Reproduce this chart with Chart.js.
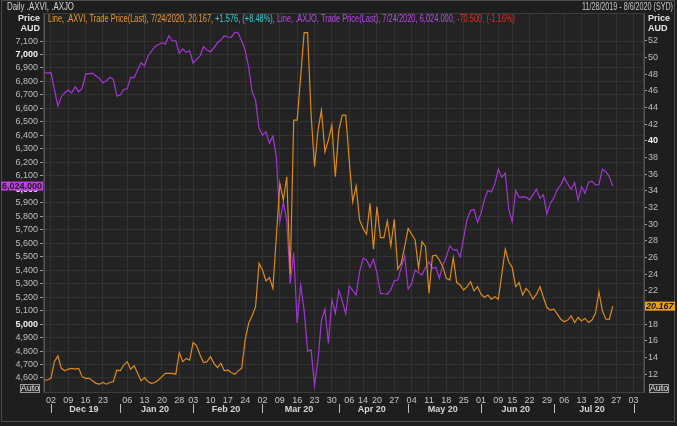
<!DOCTYPE html>
<html>
<head>
<meta charset="utf-8">
<script src="https://cdn.jsdelivr.net/npm/chart.js@4.4.1/dist/chart.umd.min.js"></script>
<style>
  html, body { margin: 0; padding: 0; background: #1e1e1e; }
  #wrap { width: 677px; height: 426px; }
</style>
</head>
<body>
<div id="wrap"><canvas id="chart" width="677" height="426"></canvas></div>
<script>
// ASX trading days shown on the axis (data ends 24 Jul, axis runs to 6 Aug)
const tradingDays = [
  '2019-11-28','2019-11-29',
  '2019-12-02','2019-12-03','2019-12-04','2019-12-05','2019-12-06','2019-12-09','2019-12-10','2019-12-11','2019-12-12','2019-12-13',
  '2019-12-16','2019-12-17','2019-12-18','2019-12-19','2019-12-20','2019-12-23','2019-12-24','2019-12-27','2019-12-30','2019-12-31',
  '2020-01-02','2020-01-03','2020-01-06','2020-01-07','2020-01-08','2020-01-09','2020-01-10','2020-01-13','2020-01-14','2020-01-15',
  '2020-01-16','2020-01-17','2020-01-20','2020-01-21','2020-01-22','2020-01-23','2020-01-24','2020-01-28','2020-01-29','2020-01-30','2020-01-31',
  '2020-02-03','2020-02-04','2020-02-05','2020-02-06','2020-02-07','2020-02-10','2020-02-11','2020-02-12','2020-02-13','2020-02-14',
  '2020-02-17','2020-02-18','2020-02-19','2020-02-20','2020-02-21','2020-02-24','2020-02-25','2020-02-26','2020-02-27','2020-02-28',
  '2020-03-02','2020-03-03','2020-03-04','2020-03-05','2020-03-06','2020-03-09','2020-03-10','2020-03-11','2020-03-12','2020-03-13',
  '2020-03-16','2020-03-17','2020-03-18','2020-03-19','2020-03-20','2020-03-23','2020-03-24','2020-03-25','2020-03-26','2020-03-27','2020-03-30','2020-03-31',
  '2020-04-01','2020-04-02','2020-04-03','2020-04-06','2020-04-07','2020-04-08','2020-04-09','2020-04-14','2020-04-15','2020-04-16',
  '2020-04-17','2020-04-20','2020-04-21','2020-04-22','2020-04-23','2020-04-24','2020-04-27','2020-04-28','2020-04-29','2020-04-30',
  '2020-05-01','2020-05-04','2020-05-05','2020-05-06','2020-05-07','2020-05-08','2020-05-11','2020-05-12','2020-05-13','2020-05-14','2020-05-15',
  '2020-05-18','2020-05-19','2020-05-20','2020-05-21','2020-05-22','2020-05-25','2020-05-26','2020-05-27','2020-05-28','2020-05-29',
  '2020-06-01','2020-06-02','2020-06-03','2020-06-04','2020-06-05','2020-06-09','2020-06-10','2020-06-11','2020-06-12','2020-06-15','2020-06-16',
  '2020-06-17','2020-06-18','2020-06-19','2020-06-22','2020-06-23','2020-06-24','2020-06-25','2020-06-26','2020-06-29','2020-06-30',
  '2020-07-01','2020-07-02','2020-07-03','2020-07-06','2020-07-07','2020-07-08','2020-07-09','2020-07-10','2020-07-13','2020-07-14','2020-07-15',
  '2020-07-16','2020-07-17','2020-07-20','2020-07-21','2020-07-22','2020-07-23','2020-07-24','2020-07-27','2020-07-28','2020-07-29','2020-07-30','2020-07-31',
  '2020-08-03','2020-08-04','2020-08-05','2020-08-06'
];

// S&P/ASX 200 VIX (.AXVI), right axis
const axviClose = [
  11.3, 11.3, 11.5, 13.5, 14.2, 12.7, 12.4, 12.6, 12.7, 12.6, 12.7, 11.7, 11.5, 11.5, 11.2, 10.9, 10.8, 11.0, 10.8, 11.0,
  11.1, 12.5, 12.4, 13.1, 13.5, 12.6, 13.0, 12.1, 11.2, 11.6, 11.1, 10.9, 11.0, 11.3, 11.7, 12.1, 12.1, 12.1, 12.0, 14.6,
  13.5, 13.9, 13.7, 15.8, 15.4, 14.3, 13.4, 13.5, 14.1, 13.3, 12.8, 13.3, 12.4, 12.5, 12.2, 12.0, 12.4, 12.7, 16.1, 18.1,
  19.0, 20.1, 25.3, 24.5, 23.2, 23.6, 22.3, 28.5, 34.9, 32.9, 35.7, 24.0, 42.5, 42.5, 47.7, 53.0, 53.0, 43.3, 36.9, 41.3,
  43.7, 38.7, 40.1, 41.9, 35.7, 41.3, 43.1, 43.1, 37.7, 32.7, 34.6, 30.5, 29.5, 28.8, 32.5, 27.0, 32.1, 28.4, 28.4, 30.4,
  27.4, 30.6, 24.6, 25.3, 27.3, 29.5, 28.8, 28.1, 24.7, 27.9, 27.3, 21.7, 26.2, 26.3, 25.7, 24.9, 23.5, 23.3, 26.0, 23.0,
  22.7, 22.1, 22.5, 23.1, 22.0, 22.5, 21.6, 21.2, 21.5, 21.0, 21.3, 21.0, 24.0, 27.0, 25.5, 24.8, 22.5, 23.0, 21.5, 22.3,
  21.8, 21.0, 21.6, 22.5, 21.2, 20.0, 19.7, 19.8, 19.2, 18.6, 18.3, 18.5, 19.0, 18.2, 18.8, 18.4, 18.7, 18.2, 18.5, 19.3,
  21.9, 19.6, 18.6, 18.591, 20.167
];

// S&P/ASX 200 (.AXJO), left axis
const axjoClose = [
  6872, 6860, 6868, 6740, 6618, 6687, 6716, 6736, 6716, 6761, 6724, 6749, 6855, 6858, 6860, 6840, 6823, 6791, 6805, 6831,
  6816, 6692, 6699, 6742, 6746, 6831, 6828, 6885, 6939, 6915, 6989, 7025, 7058, 7075, 7087, 7076, 7139, 7102, 7102, 7009,
  7041, 7016, 7028, 6935, 6964, 6989, 7058, 7033, 7021, 7050, 7087, 7107, 7139, 7130, 7127, 7165, 7160, 7100, 7033, 6909,
  6724, 6662, 6452, 6403, 6427, 6341, 6395, 6242, 5760, 5900, 5770, 5300, 5530, 5006, 5290, 5104, 4800, 4810, 4546, 4734,
  5030, 5110, 4857, 5179, 5080, 5250, 5170, 5075, 5283, 5250, 5216, 5390, 5488, 5475, 5421, 5481, 5380, 5228, 5225, 5223,
  5253, 5322, 5327, 5420, 5505, 5258, 5300, 5401, 5380, 5364, 5420, 5463, 5414, 5421, 5340, 5438, 5497, 5580, 5550, 5553,
  5497, 5640, 5780, 5842, 5850, 5755, 5820, 5925, 5990, 5980, 6040, 6149, 6090, 6120, 5850, 5760, 5990, 5940, 5943, 5942,
  5920, 5960, 6000, 5934, 5960, 5815, 5897, 5934, 6000, 6033, 6090, 6040, 6000, 6050, 5920, 6020, 5970, 6052, 6060, 6033,
  6034, 6150, 6130, 6094.5, 6024
];

const leftTicks = [4600, 4700, 4800, 4900, 5000, 5100, 5200, 5300, 5400, 5500, 5600, 5700, 5800, 5900, 6000,
                   6100, 6200, 6300, 6400, 6500, 6600, 6700, 6800, 6900, 7000, 7100];
const rightTicks = [12, 14, 16, 18, 20, 22, 24, 26, 28, 30, 32, 34, 36, 38, 40, 42, 44, 46, 48, 50, 52];

const weekTicks = [
  '2019-12-02','2019-12-09','2019-12-16','2019-12-23','2020-01-06','2020-01-13','2020-01-20','2020-01-28',
  '2020-02-03','2020-02-10','2020-02-17','2020-02-24','2020-03-02','2020-03-09','2020-03-16','2020-03-23','2020-03-30',
  '2020-04-06','2020-04-14','2020-04-20','2020-04-27','2020-05-04','2020-05-11','2020-05-18','2020-05-25',
  '2020-06-01','2020-06-09','2020-06-15','2020-06-22','2020-06-29','2020-07-06','2020-07-13','2020-07-20','2020-07-27','2020-08-03'
];
const monthKeys = ['2019-12', '2020-01', '2020-02', '2020-03', '2020-04', '2020-05', '2020-06', '2020-07'];
const monthLabels = ['Dec 19', 'Jan 20', 'Feb 20', 'Mar 20', 'Apr 20', 'May 20', 'Jun 20', 'Jul 20'];
const monthSeparators = ['2019-12', '2020-01', '2020-02', '2020-03', '2020-04', '2020-05', '2020-06', '2020-07', '2020-08'];

// --- helpers -------------------------------------------------------------
const FONT = "'Liberation Sans Narrow', 'Liberation Sans', Arial, sans-serif";
const firstIndexOf = key => tradingDays.findIndex(d => d.startsWith(key));
const lastIndexOf = key => { let k = -1; tradingDays.forEach((d, i) => { if (d.startsWith(key)) k = i; }); return k; };
const monthMids = monthKeys.map(k => (firstIndexOf(k) + lastIndexOf(k)) / 2);
const fmt = (v, d) => v.toLocaleString('en-US', { minimumFractionDigits: d, maximumFractionDigits: d });

function drawFitted(ctx, parts, x, y, width, font) {
  ctx.save();
  ctx.font = font;
  const full = parts.map(p => p[0]).join('');
  const w = ctx.measureText(full).width;
  ctx.translate(x, y);
  ctx.scale(width / w, 1);
  ctx.textBaseline = 'middle';
  ctx.textAlign = 'left';
  let cx = 0;
  parts.forEach(([t, c]) => {
    ctx.fillStyle = c;
    ctx.fillText(t, cx, 0);
    cx += ctx.measureText(t).width;
  });
  ctx.restore();
}

function tag(ctx, text, x, y, w, h, bg, fg, font, align) {
  ctx.fillStyle = bg;
  ctx.fillRect(x, y - h / 2, w, h);
  ctx.fillStyle = fg;
  ctx.font = font;
  ctx.textBaseline = 'middle';
  ctx.textAlign = align;
  ctx.fillText(text, align === 'right' ? x + w - 1 : x + 1, y + 0.5);
}

const decor = {
  id: 'decor',
  beforeDraw(chart) {
    const { ctx, chartArea: a } = chart;
    ctx.save();
    ctx.fillStyle = '#1e1e1e';
    ctx.fillRect(0, 0, chart.width, chart.height);
    ctx.fillStyle = '#232323';
    ctx.fillRect(a.left, a.top, a.right - a.left, a.bottom - a.top);
    ctx.restore();
  },
  afterDraw(chart) {
    const { ctx, chartArea: a, scales } = chart;
    ctx.save();
    // frames
    ctx.strokeStyle = '#4a4a4a';
    ctx.lineWidth = 1;
    ctx.strokeRect(1.5, 0.5, 673, 421);
    ctx.strokeStyle = '#3c3c3c';
    ctx.strokeRect(a.left - 0.5, a.top + 0.5, a.right - a.left, a.bottom - a.top);

    // title row
    drawFitted(ctx, [['Daily .AXVI, .AXJO', '#d4d4d4']], 7, 7.5, 67, '10px ' + FONT);
    drawFitted(ctx, [['11/28/2019 - 8/6/2020 (SYD)', '#c8c8c8']], 582, 7.5, 91, '10px ' + FONT);

    // axis unit captions
    ctx.font = 'bold 9px ' + FONT;
    ctx.fillStyle = '#e4e4e4';
    ctx.textBaseline = 'middle';
    ctx.textAlign = 'right';
    ctx.fillText('Price', 40, 18.5);
    ctx.fillText('AUD', 40, 29);
    ctx.textAlign = 'left';
    ctx.fillText('Price', 648, 18.5);
    ctx.fillText('AUD', 648, 29);

    // legend line
    const n = axviClose.length;
    const vLast = axviClose[n - 1], vPrev = axviClose[n - 2];
    const jLast = axjoClose[n - 1], jPrev = axjoClose[n - 2];
    const vChg = vLast - vPrev, jChg = jLast - jPrev;
    const sign = v => (v >= 0 ? '+' : '-');
    const date = '7/24/2020';
    drawFitted(ctx, [
      ['Line, .AXVI, Trade Price(Last), ' + date + ', ' + fmt(vLast, 3) + ', ', '#eb9a28'],
      [sign(vChg) + fmt(Math.abs(vChg), 3) + ', (' + sign(vChg) + fmt(Math.abs(vChg / vPrev * 100), 2) + '%), ', '#34cccc'],
      ['Line, .AXJO, Trade Price(Last), ' + date + ', ' + fmt(jLast, 3) + ', ', '#b84ae8'],
      [sign(jChg) + fmt(Math.abs(jChg), 3) + ', (' + sign(jChg) + fmt(Math.abs(jChg / jPrev * 100), 2) + '%)', '#e42c2c']
    ], 48, 19, 467, '10px ' + FONT);

    // month separators under the week row
    const xm = scales.xm;
    ctx.strokeStyle = '#bdbdbd';
    ctx.beginPath();
    monthSeparators.forEach(k => {
      const px = Math.round(xm.getPixelForValue(firstIndexOf(k))) + 0.5;
      ctx.moveTo(px, 404);
      ctx.lineTo(px, 413);
    });
    ctx.stroke();

    // last value tags
    const yL = scales.yL, yR = scales.yR;
    tag(ctx, fmt(jLast, 3), 1, yL.getPixelForValue(jLast), 42, 9, '#c03ee6', '#1a1a1a', 'bold 9px ' + FONT, 'right');
    tag(ctx, fmt(vLast, 3), 645, yR.getPixelForValue(vLast), 30, 9, '#f0a010', '#111', 'italic bold 9px ' + FONT, 'left');

    // Auto buttons
    ctx.strokeStyle = '#9a9a9a';
    ctx.fillStyle = '#2a2a2a';
    [[20, 384, 20], [649, 384, 20]].forEach(([x, y, w]) => {
      ctx.fillRect(x, y, w, 9);
      ctx.strokeRect(x + 0.5, y + 0.5, w - 1, 8);
    });
    ctx.fillStyle = '#e0e0e0';
    ctx.font = '9px ' + FONT;
    ctx.textAlign = 'center';
    ctx.fillText('Auto', 30, 389);
    ctx.fillText('Auto', 659, 389);
    ctx.restore();
  }
};

const tickFont = ctx => ({ family: FONT, size: 9, weight: ctx.tick && ctx.tick.bold ? 'bold' : 'normal' });

new Chart(document.getElementById('chart'), {
  type: 'line',
  data: {
    labels: tradingDays,
    datasets: [
      { label: '.AXVI', data: axviClose, yAxisID: 'yR', xAxisID: 'x', borderColor: '#dc8a1a', borderWidth: 1.2, pointRadius: 0, tension: 0 },
      { label: '.AXJO', data: axjoClose, yAxisID: 'yL', xAxisID: 'x', borderColor: '#a236d4', borderWidth: 1.2, pointRadius: 0, tension: 0 }
    ]
  },
  options: {
    responsive: false,
    animation: false,
    devicePixelRatio: 1,
    layout: { padding: { top: 13, left: 0, right: 0, bottom: 0 } },
    plugins: { legend: { display: false }, tooltip: { enabled: false } },
    scales: {
      x: {
        type: 'category', position: 'bottom', weight: 0, offset: false,
        afterBuildTicks: s => { s.ticks = weekTicks.map(d => ({ value: tradingDays.indexOf(d) })); },
        afterFit: s => { s.height = 11; },
        ticks: { autoSkip: false, maxRotation: 0, minRotation: 0, padding: 3, color: '#c4c4c4',
                 font: { family: FONT, size: 9 }, callback: v => tradingDays[v].slice(8, 10) },
        grid: { color: '#323232', drawTicks: false, tickLength: 0 },
        border: { display: false }
      },
      xm: {
        type: 'category', position: 'bottom', weight: 1, offset: false,
        afterBuildTicks: s => { s.ticks = monthMids.map(v => ({ value: v })); },
        afterFit: s => { s.height = 23; },
        ticks: { autoSkip: false, maxRotation: 0, minRotation: 0, padding: 1, color: '#d6d6d6',
                 font: { family: FONT, size: 9, weight: 'bold' }, callback: (v, i) => monthLabels[i] },
        grid: { display: false, drawTicks: false, tickLength: 0 },
        border: { display: false }
      },
      yL: {
        type: 'linear', position: 'left', min: 4496, max: 7308,
        afterBuildTicks: s => { s.ticks = leftTicks.map(v => ({ value: v, bold: v % 1000 === 0 })); },
        afterFit: s => { s.width = 44; },
        ticks: { padding: 2, color: c => (c.tick.value % 1000 === 0 ? '#f4f4f4' : '#bdbdbd'), font: tickFont,
                 callback: v => fmt(v, 0) },
        grid: { color: '#323232', tickColor: '#9a9a9a', tickLength: 4 },
        border: { display: true, color: '#555' }
      },
      yR: {
        type: 'linear', position: 'right', min: 9.86, max: 55.36,
        afterBuildTicks: s => { s.ticks = rightTicks.map(v => ({ value: v, bold: v % 20 === 0 })); },
        afterFit: s => { s.width = 33; },
        ticks: { padding: 1, color: c => (c.tick.value % 20 === 0 ? '#f4f4f4' : '#bdbdbd'), font: tickFont,
                 callback: v => String(v) },
        grid: { drawOnChartArea: false, tickColor: '#9a9a9a', tickLength: 3 },
        border: { display: true, color: '#555' }
      }
    }
  },
  plugins: [decor]
});
</script>
</body>
</html>
